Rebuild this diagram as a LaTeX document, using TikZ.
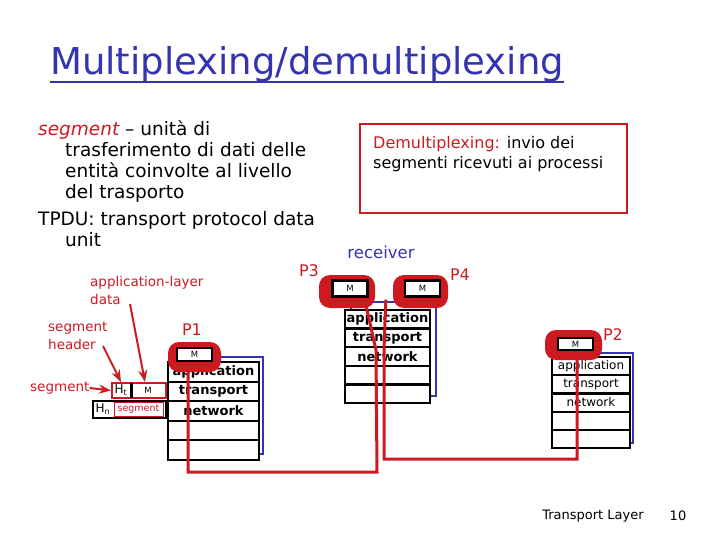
\documentclass[tikz,border=0pt]{standalone}
\usepackage{fontspec}
\setmainfont{DejaVu Sans}
\usetikzlibrary{calc}
\usetikzlibrary{arrows.meta}

\definecolor{slidered}{RGB}{204,26,32}
\definecolor{slideblue}{RGB}{52,52,176}

\tikzset{
  layerbox/.style={draw=black,line width=2.4pt,fill=white,inner sep=0pt,font=\fontsize{13}{13}\selectfont\bfseries},
  thinlayer/.style={draw=black,line width=2.2pt,fill=white,inner sep=0pt,font=\fontsize{12}{12}\selectfont},
  msgbox/.style={draw=black,line width=2.4pt,fill=white,minimum width=35pt,inner sep=0pt,font=\fontsize{8.5}{8.5}\selectfont},
  blob/.style={fill=slidered,rounded corners=11pt},
  shadow/.style={draw=slideblue,line width=2.6pt,fill=white},
  pipe/.style={slidered,line width=3pt},
  redtext/.style={text=slidered,inner sep=0pt,font=\fontsize{13.5}{18}\selectfont},
  plabel/.style={text=slidered,inner sep=0pt,font=\fontsize{16}{16}\selectfont},
}

\begin{document}
\begin{tikzpicture}[x=1pt,y=-1pt]
\useasboundingbox (0,0) rectangle (720,540);

% title
\node[anchor=west,inner sep=0pt,text=slideblue,font=\fontsize{37}{37}\selectfont] (title) at (50,64) {Multiplexing/demultiplexing};
\draw[slideblue,line width=2pt] (title.west |- 0,82) -- (title.east |- 0,82);

% definitions
\node[anchor=north west,align=left,inner sep=0pt,font=\fontsize{18.5}{21}\selectfont] (defseg) at (38,121)
  {\textcolor{slidered}{\itshape segment} -- unità di\\
   \hspace*{27pt}trasferimento di dati delle\\
   \hspace*{27pt}entità coinvolte al livello\\
   \hspace*{27pt}del trasporto};
\node[anchor=north west,align=left,inner sep=0pt,font=\fontsize{18.5}{21}\selectfont] (deftpdu) at (38,211)
  {TPDU: transport protocol data\\
   \hspace*{27pt}unit};

% demultiplexing box
\draw[slidered,line width=2.2pt] (360,124) rectangle (627,213);
\node[anchor=north west,align=left,inner sep=0pt,font=\fontsize{16}{20}\selectfont] (demux) at (373,136)
  {\textcolor{slidered}{Demultiplexing:} invio dei\\segmenti ricevuti ai processi};

% sender stack (P1)
\draw[shadow] (172,357) rectangle (263,454);
\node[layerbox,minimum width=91pt,minimum height=19.5pt] (app1) at (213.5,372) {application};
\node[layerbox,minimum width=91pt,minimum height=19.5pt] (tra1) at (213.5,391.5) {transport};
\node[layerbox,minimum width=91pt,minimum height=19.5pt] (net1) at (213.5,411) {network};
\node[layerbox,minimum width=91pt,minimum height=19.5pt] (lnk1) at (213.5,430.5) {};
\node[layerbox,minimum width=91pt,minimum height=19.5pt] (phy1) at (213.5,450) {};
\fill[blob] (168,342) rectangle (221,372);
\node[msgbox,minimum height=13pt] (m1) at (194.5,354.5) {M};
\node[plabel] (p1) at (192,330) {P1};

% receiver stack (P3, P4)
\draw[shadow] (351,302) rectangle (436,396);
\node[layerbox,minimum width=85pt,minimum height=18.6pt] (app2) at (387.5,319.3) {application};
\node[layerbox,minimum width=85pt,minimum height=18.6pt] (tra2) at (387.5,337.9) {transport};
\node[layerbox,minimum width=85pt,minimum height=18.6pt] (net2) at (387.5,356.5) {network};
\node[layerbox,minimum width=85pt,minimum height=18.6pt] (lnk2) at (387.5,375.1) {};
\node[layerbox,minimum width=85pt,minimum height=18.6pt] (phy2) at (387.5,393.7) {};
\fill[blob] (319,275) rectangle (375,308);
\fill[blob] (393,275) rectangle (448,308);
\node[msgbox,minimum height=16pt] (m3) at (350,288.5) {M};
\node[msgbox,minimum height=16pt] (m4) at (422.5,288.5) {M};
\node[plabel] (p3) at (309,271) {P3};
\node[plabel] (p4) at (460,275) {P4};
\node[text=slideblue,inner sep=0pt,font=\fontsize{16.5}{16.5}\selectfont] (recv) at (381,252) {receiver};

% sender stack (P2)
\draw[shadow] (556,353) rectangle (633,443);
\node[thinlayer,minimum width=78pt,minimum height=18.2pt] (app3) at (591,366.1) {application};
\node[thinlayer,minimum width=78pt,minimum height=18.2pt] (tra3) at (591,384.3) {transport};
\node[thinlayer,minimum width=78pt,minimum height=18.2pt] (net3) at (591,402.5) {network};
\node[thinlayer,minimum width=78pt,minimum height=18.2pt] (lnk3) at (591,420.7) {};
\node[thinlayer,minimum width=78pt,minimum height=18.2pt] (phy3) at (591,438.9) {};
\fill[blob] (545,330) rectangle (602,360);
\node[msgbox,minimum height=12pt] (m2) at (575.5,344) {M};
\node[plabel] (p2) at (613,335) {P2};

% paths of the segments
\coordinate (low1) at (188,472);
\coordinate (low3) at (377,472);
\coordinate (bend3) at (376,350);
\coordinate (bend4) at (384,350);
\coordinate (low4) at (384,459);
\coordinate (low2) at (577,459);
\draw[pipe] (m1.south -| low1) -- (low1) -- (low3) -- (bend3) -- ($(m3.south east)+(-4,2)$);
\draw[pipe] ($(m4.south west)+(-18,2)$) -- (bend4) -- (low4) -- (low2) -- (m2.south -| low2);

% segment structure
\node[draw=slidered,line width=2pt,minimum width=54pt,minimum height=15pt,inner sep=0pt] (htbox) at (139,390.5) {};
\node[inner sep=0pt,font=\fontsize{12}{12}\selectfont] (ht) at (121,390.5) {H\textsubscript{t}};
\node[inner sep=0pt,font=\fontsize{8.5}{8.5}\selectfont] (htm) at (148,390.5) {M};
\draw[black,line width=3pt] (131,383) -- (131,398);
\node[draw=black,line width=2.4pt,minimum width=73pt,minimum height=17pt,inner sep=0pt] (hnbox) at (129.5,409.5) {};
\node[inner sep=0pt,font=\fontsize{12}{12}\selectfont] (hn) at (103,409.5) {H\textsubscript{n}};
\node[draw=slidered,line width=1pt,minimum width=49pt,minimum height=14pt,inner sep=0pt,text=slidered,font=\fontsize{9.5}{9.5}\selectfont] (hnseg) at (138.5,409) {segment};

% labels of the segment
\node[redtext,anchor=north west,align=left] (appdata) at (90,276) {application-layer\\data};
\node[redtext,anchor=north west,align=left] (seghead) at (48,322) {segment\\header};
\node[redtext,anchor=west] (seglab) at (30,388) {segment};
\draw[slidered,line width=2pt,-{Stealth}] (seglab.east) -- (htbox.west);
\draw[slidered,line width=2pt,-{Stealth}] (103,346) -- (121,382);
\draw[slidered,line width=2pt,-{Stealth}] (130,304) -- (145,382);

% footer
\node[inner sep=0pt,font=\fontsize{13}{13}\selectfont] (footer) at (593,516) {Transport Layer};
\node[inner sep=0pt,font=\fontsize{13}{13}\selectfont] (pagenum) at (678,516) {10};

\end{tikzpicture}
\end{document}
